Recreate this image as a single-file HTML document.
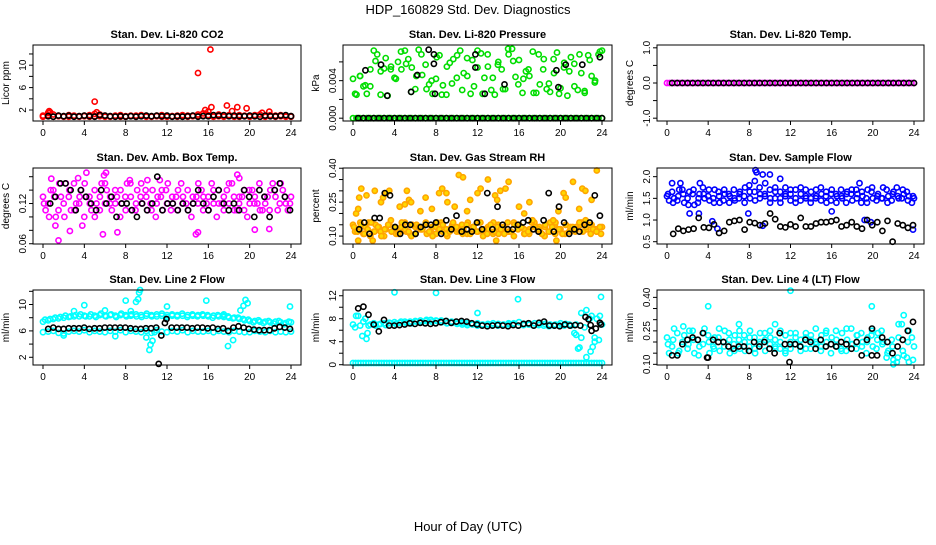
<!DOCTYPE html>
<html><head><meta charset="utf-8"><style>
html,body{margin:0;padding:0;background:#fff;}
svg text{font-family:"Liberation Sans",Arial,sans-serif;fill:#000;}
</style></head><body>
<svg id="chart" width="936" height="540" viewBox="0 0 936 540" xmlns="http://www.w3.org/2000/svg">
<text x="468" y="14" font-size="13" text-anchor="middle">HDP_160829  Std. Dev. Diagnostics</text>
<text x="468" y="531" font-size="13" text-anchor="middle">Hour of Day (UTC)</text>
</svg>
<script>
// ---- data ----
const xTicks = [0,4,8,12,16,20,24];
// Panel 1 CO2
const co2Red1 = [1.0,1.1,1.2,1.0,0.9,1.1,1.0,0.9,1.0,1.1,1.3,1.2,1.0,0.9,1.0,1.1,0.9,1.0,1.0,1.1,1.0,0.9,1.0,1.1,1.0,0.9,1.0,1.1,1.0,1.0,1.2,1.4,1.1,1.0,1.2,1.0,1.1,1.0,1.1,1.0,1.0,1.1,1.2,1.0,1.1,1.0,1.1,1.0,0.9];
const co2Red2 = [0.8,0.9,0.8,0.9,0.8,0.8,0.9,0.8,0.9,0.8,0.9,0.9,0.8,0.8,0.9,0.8,0.8,0.9,0.8,0.9,0.8,0.8,0.9,0.8,0.8,0.9,0.8,0.9,0.8,0.9,0.9,1.0,0.9,0.8,0.9,0.8,0.9,0.8,0.8,0.9,0.8,0.9,0.8,0.8,0.9,0.8,0.9,0.8,0.8];
const co2RedPts = [[5,3.5],[15,8.6],[16.2,12.8],[15.7,2],[16.3,2.5],[17.8,2.8],[18.8,2.5],[19.7,2.3],[18.3,1.8],[0.6,1.8],[0.5,1.5],[0.7,1.6],[5.2,1.6],[21.9,1.7],[21.2,1.5],[16,1.7]];
const co2Black = [0.9,0.8,1.0,0.9,1.0,0.8,0.9,1.0,0.9,0.8,1.1,1.0,0.9,0.8,0.9,0.8,0.9,0.8,0.9,1.0,0.9,1.0,0.9,1.0,0.8,0.9,0.8,0.9,1.0,0.8,0.9,0.9,1.1,1.0,1.1,0.9,1.0,0.9,0.9,1.0,0.9,0.8,1.0,0.9,0.9,1.0,1.1,0.9];
// Panel 2 pressure
const presGreenZero = new Array(73).fill(0);
const presGreen1 = [.0042,.0025,.0045,.0034,.0026,.0034,.0072,.0068,.0050,.0053,.0024,.0055,.0043,.0060,.0052,.0072,.0063,.0054,.0031,.0073,.0046,.0057,.0036,.0026,.0042,.0067,.0035,.0025,.0059,.0063,.0043,.0072,.0048,.0064,.0026,.0034,.0072,.0069,.0043,.0055,.0030,.0025,.0060,.0052,.0031,.0068,.0074,.0044,.0062,.0027,.0050,.0045,.0071,.0027,.0036,.0052,.0031,.0028,.0063,.0070,.0032,.0054,.0024,.0065,.0058,.0030,.0048,.0027,.0067,.0045,.0040,.0068,.0072];
const presGreen2 = [.0026,.0045,.0035,.0052,.0061,.0025,.0064,.0052,.0042,.0071,.0058,.0028,.0045,.0068,.0031,.0040,.0065,.0025,.0055,.0037,.0067,.0030,.0045,.0062,.0054,.0026,.0068,.0043,.0057,.0031,.0074,.0061,.0036,.0042,.0052,.0027,.0068,.0063,.0037,.0048,.0026,.0059,.0050,.0034,.0068,.0029,.0062,.0038,.0071];
const presBlackZero = new Array(48).fill(0);
const presBlackPts = [[1.2,.0051],[2.7,.0057],[3.3,.0024],[5.6,.0028],[6.2,.0046],[7.3,.0073],[7.8,.0058],[7.8,.0068],[7.9,.0026],[11.8,.0068],[11.8,.0054],[12.7,.0026],[14.6,.0036],[19.6,.0051],[19.8,.0033],[20.5,.0057],[22.1,.0057],[23.8,.0065]];
// Panel 3 temp
const tempMag = new Array(97).fill(0);
const tempBlack = new Array(48).fill(0);
// Panel 4 amb box temp
const ambMag1 = [.13,.12,.14,.11,.12,.13,.15,.12,.10,.13,.14,.11,.12,.13,.12,.14,.11,.13,.12,.15,.13,.11,.12,.14,.12,.13,.11,.12,.14,.13,.12,.11,.13,.14,.12,.13,.12,.11,.13,.14,.12,.13,.11,.12,.14,.13,.15,.12,.13];
const ambMag2 = [.11,.14,.10,.13,.15,.11,.12,.14,.13,.11,.12,.15,.14,.11,.13,.12,.15,.11,.14,.12,.11,.14,.13,.11,.15,.12,.14,.13,.11,.12,.15,.13,.11,.12,.14,.11,.15,.13,.12,.11,.14,.12,.15,.13,.11,.14,.12,.13,.12];
const ambMag3 = [.12,.10,.13,.15,.10,.14,.11,.13,.15,.12,.10,.13,.15,.12,.14,.10,.13,.15,.11,.13,.14,.12,.10,.13,.14,.11,.13,.15,.12,.10,.13,.14,.12,.15,.10,.12,.14,.15,.11,.13,.10,.14,.12,.11,.13,.15,.11,.14,.11];
const ambMagPts = [[1.5,.065],[1.2,.087],[2.6,.079],[3.8,.087],[4.2,.166],[5.8,.074],[5.9,.162],[6.1,.166],[7.2,.077],[10.1,.155],[14.8,.074],[15,.077],[18.8,.163],[19,.158],[20.5,.081],[21.9,.082],[3.4,.158],[8.4,.155],[11.3,.155],[0.8,.157]];
const ambBlack = [.12,.13,.15,.15,.14,.11,.14,.13,.12,.11,.14,.12,.13,.10,.12,.12,.11,.10,.12,.11,.12,.16,.11,.12,.12,.11,.12,.11,.12,.14,.12,.11,.13,.14,.12,.11,.12,.11,.14,.13,.10,.14,.13,.10,.14,.15,.13,.11];
// Panel 5 RH
const rhOr1 = [.15,.13,.11,.16,.12,.14,.10,.15,.13,.12,.16,.11,.14,.13,.15,.12,.11,.16,.13,.14,.12,.15,.11,.13,.16,.12,.14,.11,.15,.13,.12,.16,.14,.11,.13,.15,.12,.14,.16,.11,.13,.15,.12,.14,.16,.13,.15,.12,.14];
const rhOr2 = [.12,.16,.14,.10,.15,.12,.13,.17,.11,.14,.12,.10,.15,.13,.11,.14,.16,.12,.10,.15,.13,.11,.16,.14,.12,.10,.13,.16,.11,.14,.12,.10,.15,.13,.11,.16,.14,.10,.12,.15,.13,.11,.14,.12,.15,.17,.11,.13,.11];
const rhOr3 = [.14,.12,.15,.11,.13,.16,.12,.14,.10,.13,.15,.12,.14,.11,.16,.13,.12,.15,.11,.14,.13,.16,.12,.10,.14,.13,.15,.11,.12,.16,.14,.12,.13,.15,.11,.14,.12,.16,.13,.11,.15,.12,.14,.13,.11,.16,.12,.15,.13,.14,.11,.12,.16,.14,.13,.11,.15,.12,.14,.16,.13,.11,.15,.12,.14,.13,.16,.12,.14,.15,.13,.12,.14];
const rhOrPts = [[0.3,.20],[0.5,.22],[0.6,.27],[0.8,.31],[1.3,.28],[2.1,.30],[2.7,.25],[2.9,.27],[3.2,.29],[3.5,.30],[4.5,.23],[5.0,.24],[5.2,.30],[5.4,.26],[5.6,.25],[6.5,.21],[7.0,.27],[7.6,.22],[8.3,.29],[8.6,.31],[9.0,.29],[9.1,.25],[9.8,.23],[10.2,.37],[10.6,.36],[11.0,.21],[11.3,.26],[12.0,.29],[12.3,.31],[13.0,.35],[13.7,.28],[13.9,.26],[14.2,.30],[14.7,.31],[15.0,.34],[16.0,.23],[16.5,.20],[17.0,.25],[17.3,.17],[19.3,.17],[19.8,.21],[20.3,.29],[20.5,.27],[21.2,.34],[21.8,.22],[22.1,.31],[22.4,.30],[23.0,.26],[23.5,.39],[13.8,.08],[0.5,.08],[1.9,.08],[19.6,.08]];
const rhBlack = [.13,.16,.11,.18,.18,.29,.28,.14,.11,.15,.15,.11,.14,.15,.15,.16,.11,.17,.13,.19,.12,.13,.12,.16,.13,.29,.13,.23,.15,.13,.13,.15,.16,.17,.13,.12,.17,.29,.12,.23,.16,.11,.13,.12,.15,.16,.28,.19];
// Panel 6 sample flow
const sfBlue1 = [1.55,1.65,1.45,1.7,1.5,1.6,1.4,1.75,1.55,1.5,1.65,1.45,1.6,1.7,1.5,1.55,1.8,1.65,1.75,1.6,1.7,1.5,1.65,1.55,1.45,1.7,1.6,1.5,1.65,1.55,1.6,1.4,1.7,1.55,1.5,1.65,1.45,1.6,1.55,1.7,1.5,1.6,1.75,1.55,1.65,1.5,1.6,1.55,1.5];
const sfBlue2 = [1.45,1.5,1.7,1.4,1.65,1.35,1.6,1.5,1.45,1.7,1.4,1.6,1.55,1.45,1.65,1.75,1.5,1.45,1.6,1.85,1.5,1.65,1.4,1.75,1.6,1.5,1.45,1.7,1.4,1.5,1.75,1.55,1.45,1.6,1.7,1.4,1.6,1.7,1.4,1.5,1.65,1.45,1.5,1.7,1.45,1.75,1.5,1.65,1.4];
const sfBlue3 = [1.6,1.4,1.55,1.6,1.35,1.7,1.5,1.6,1.7,1.4,1.55,1.7,1.4,1.5,1.6,1.4,1.65,1.9,1.5,1.55,1.4,1.75,1.5,1.6,1.7,1.4,1.75,1.55,1.5,1.7,1.45,1.65,1.6,1.4,1.55,1.6,1.7,1.5,1.65,1.4,1.75,1.55,1.5,1.4,1.6,1.55,1.7,1.45,1.55];
const sfBluePts = [[8.6,2.15],[8.7,2.1],[9.3,2.05],[10.0,2.05],[11.0,1.95],[2.2,1.15],[3.1,1.15],[7.9,1.15],[4.4,0.97],[4.9,0.8],[9.3,0.87],[16.0,1.2],[19.2,1.0],[23.9,0.78],[19.8,0.95],[0.5,1.85],[1.3,1.85],[3.2,1.85],[18.7,1.85]];
const sfBlack = [.68,.80,.75,.78,.80,1.05,.83,.82,.90,.70,.75,.95,.98,1.0,.78,.95,.93,.88,.92,1.15,1.02,.85,.83,.90,.85,1.05,.85,.85,.92,.95,.95,.97,1.0,.85,.88,.95,.85,.80,1.0,.88,.95,.75,.98,.50,.92,.88,.82,.88];
// Panel 7 line 2 flow
const l2Up1 = [7.4,7.6,7.8,7.9,8.0,8.1,8.2,8.2,8.3,8.2,8.3,8.4,8.3,8.4,8.3,8.4,8.4,8.3,8.5,8.4,8.3,8.4,8.5,8.3,8.4,8.3,8.4,8.3,8.4,8.3,8.4,8.3,8.2,8.3,8.2,8.1,8.0,8.0,7.8,7.6,7.5,7.5,7.4,7.4,7.3,7.4,7.3,7.2,7.3];
const l2Up2 = [7.7,7.8,8.0,8.1,8.3,8.2,8.4,8.5,8.2,8.5,8.1,8.6,8.2,8.5,8.1,8.6,8.2,8.5,8.2,8.1,8.6,8.2,8.2,8.6,8.1,8.5,8.2,8.6,8.1,8.5,8.2,8.5,8.4,8.0,8.4,8.3,8.2,7.9,8.0,7.8,7.7,7.3,7.6,7.2,7.5,7.1,7.5,7.0,7.4];
const l2Low = [5.8,5.9,6.0,5.7,5.6,5.9,6.0,5.9,6.1,5.8,6.0,5.9,5.8,6.0,5.9,6.1,5.8,6.0,5.9,5.8,6.0,5.7,6.1,5.9,5.8,6.0,5.9,6.1,5.8,6.0,5.9,5.9,6.0,5.8,6.0,5.9,5.8,6.0,5.9,5.8,5.8,6.0,5.9,5.8,6.0,5.8,5.9,5.8,5.9];
const l2Pts = [[3,9],[4,9.9],[6,9.1],[8,10.6],[8.5,9],[9,10.4],[9.2,10.8],[9.3,11.8],[9.4,12.2],[10.3,3.1],[10.4,3.9],[10.6,4.5],[10.8,5.8],[12,9.7],[15.8,10.6],[17.9,3.7],[18.4,4.6],[19.1,9.1],[19.4,9.8],[19.6,10.7],[19.8,10.2],[23.9,9.7],[7,5.2],[2,5.3],[10,5],[17.5,8.5]];
const l2Black = [6.3,6.5,6.3,6.3,6.4,6.4,6.4,6.5,6.3,6.4,6.4,6.5,6.5,6.5,6.5,6.5,6.4,6.3,6.3,6.4,6.4,6.5,5.3,7.8,6.5,6.5,6.5,6.5,6.4,6.5,6.5,6.4,6.5,6.3,6.4,6.0,6.5,6.7,6.5,6.3,6.2,6.1,6.1,6.1,6.4,6.6,6.5,6.3];
const l2BlackPts = [[11.2,1.0],[11.8,7.2]];
// Panel 8 line 3 flow
const l3Zero = new Array(97).fill(0.3);
const l3Cy1 = [7.0,8.5,7.5,6.8,7.2,7.0,7.2,7.3,7.4,7.3,7.5,7.5,7.6,7.7,7.6,7.8,7.7,7.7,7.6,7.5,7.4,7.3,7.2,7.1,7.2,7.0,7.1,7.2,7.1,7.0,7.2,7.2,7.4,7.1,7.0,7.2,7.0,7.1,7.0,7.0,7.2,7.1,6.8,7.0,9.0,9.5,8.5,8.0,7.0];
const l3Cy2 = [6.5,6.8,8.0,7.0,6.8,7.1,6.9,7.2,7.1,7.5,7.3,7.2,7.5,7.4,7.8,7.5,7.6,7.4,7.2,7.3,7.1,7.0,6.9,7.0,6.8,6.9,7.0,6.9,6.8,6.9,7.0,7.1,6.8,6.9,7.0,6.8,6.9,6.8,6.7,6.8,6.9,6.8,7.0,5.5,3.0,6.5,8.0,4.0,8.5];
const l3Pts = [[0.3,8.5],[0.9,5],[1.3,4.5],[1.4,5.5],[4,12.6],[8,12.5],[12,9],[15.9,11.4],[19.9,11.8],[23.9,11.8],[21.7,2.8],[22,4.7],[22.9,2.3],[23.1,3.1],[22.5,1.3],[23.3,4.7],[23.7,4.3],[21.5,5.2]];
const l3Black = [9.8,10.1,8.7,7.0,5.8,7.8,6.8,6.8,6.9,7.0,7.2,7.1,7.3,7.2,7.1,7.2,7.4,7.6,7.3,7.5,7.6,7.5,7.2,7.0,6.8,6.7,6.8,6.9,6.8,6.7,6.9,6.8,7.1,7.2,6.8,7.3,7.5,6.8,6.8,6.7,7.0,6.8,6.9,6.8,8.3,6.9,6.3,7.0];
const l3BlackPts = [[22.7,7.9],[23,5.9],[23.8,7.3]];
// Panel 9 line 4 flow
const l4Cy1 = [.22,.18,.24,.20,.17,.25,.21,.19,.23,.18,.22,.20,.24,.19,.21,.23,.18,.22,.20,.24,.19,.21,.17,.23,.20,.22,.18,.24,.21,.19,.23,.20,.22,.18,.24,.21,.19,.23,.20,.22,.18,.24,.20,.16,.12,.22,.14,.25,.18];
const l4Cy2 = [.15,.26,.16,.23,.25,.15,.18,.26,.15,.22,.16,.25,.15,.23,.17,.16,.25,.15,.24,.16,.22,.17,.25,.15,.17,.24,.16,.22,.17,.26,.16,.24,.15,.25,.17,.16,.26,.17,.24,.15,.23,.17,.25,.13,.21,.11,.28,.13,.22];
const l4Cy3 = [.19,.21,.15,.27,.19,.21,.14,.24,.20,.17,.26,.18,.21,.16,.25,.20,.22,.17,.19,.21,.25,.18,.20,.16,.24,.19,.21,.17,.23,.20,.18,.25,.19,.21,.16,.26,.19,.23,.18,.20,.25,.21,.19,.15,.18,.13,.16,.20,.12];
const l4Pts = [[4,.36],[12,.43],[19.9,.36],[23,.32],[22.5,.28],[22,.10],[23.5,.11],[10.5,.28],[7,.28]];
const l4Black = [.14,.14,.19,.21,.22,.21,.24,.13,.21,.20,.20,.18,.17,.18,.18,.16,.20,.18,.20,.17,.15,.24,.19,.19,.19,.18,.21,.20,.17,.21,.18,.19,.18,.20,.19,.17,.20,.14,.21,.26,.14,.22,.20,.15,.18,.21,.25,.29];
const l4BlackPts = [[11.9,.11],[3.9,.13],[19.9,.14]];

// ---- layout ----
const cols = [{l:33,r:301,x0:43,x24:291},{l:343,r:612,x0:353,x24:602},{l:657,r:924,x0:667,x24:914}];
const rows = [{t:45,b:121},{t:168,b:244},{t:290,b:365}];
const RED='#ff0000',GRN='#00dd00',MAG='#ff00ff',ORG='#ffa500',BLU='#0000ff',CYN='#00ffff',BLK='#000000';
const panels = [
 {name:'co2',title:'Stan. Dev. Li-820 CO2',yl:'Licor ppm',c:0,r:0,lo:0.04,hi:13.6,ticks:[2,4,6,8,10,12],labels:[2,6,10],fmt:v=>String(v),
  series:[[RED,co2Red1,0,24],[RED,co2Red2,0,24],[RED,co2RedPts],[BLK,co2Black,0.5,24]]},
 {name:'pressure',title:'Stan. Dev. Li-820 Pressure',yl:'kPa',c:1,r:0,lo:-0.0003,hi:0.0078,ticks:[0,.002,.004,.006],labels:[0,.004],fmt:v=>v.toFixed(3),
  series:[[GRN,presGreenZero,0,24],[GRN,presGreen1,0,24],[GRN,presGreen2,0.2,23.8],[BLK,presBlackZero,0.5,24],[BLK,presBlackPts]]},
 {name:'li820-temp',title:'Stan. Dev. Li-820 Temp.',yl:'degrees C',c:2,r:0,lo:-1.08,hi:1.08,ticks:[-1,-.5,0,.5,1],labels:[-1,0,1],fmt:v=>v.toFixed(1),
  series:[[MAG,tempMag,0,24],[BLK,tempBlack,0.5,24]]},
 {name:'amb-box-temp',title:'Stan. Dev. Amb. Box Temp.',yl:'degrees C',c:0,r:1,lo:0.0596,hi:0.173,ticks:[.06,.08,.10,.12,.14,.16],labels:[.06,.12],fmt:v=>v.toFixed(2),
  series:[[MAG,ambMag1,0,24],[MAG,ambMag2,0.25,23.9],[MAG,ambMag3,0.1,23.7],[MAG,ambMagPts],[BLK,ambBlack,0.7,23.9]]},
 {name:'gas-rh',title:'Stan. Dev. Gas Stream RH',yl:'percent',c:1,r:1,lo:0.065,hi:0.401,ticks:[.10,.15,.20,.25,.30,.35,.40],labels:[.10,.25,.40],fmt:v=>v.toFixed(2),
  series:[[ORG,rhOr1,0,24],[ORG,rhOr2,0.2,23.9],[ORG,rhOr3,0.1,23.8],[ORG,rhOrPts],[BLK,rhBlack,0.6,23.8]]},
 {name:'sample-flow',title:'Stan. Dev. Sample Flow',yl:'ml/min',c:2,r:1,lo:0.447,hi:2.2,ticks:[.5,1,1.5,2],labels:[.5,1,1.5,2],fmt:v=>v.toFixed(1),
  series:[[BLU,sfBlue1,0,24],[BLU,sfBlue2,0.2,23.8],[BLU,sfBlue3,0.1,23.9],[BLU,sfBluePts],[BLK,sfBlack,0.6,23.9]]},
 {name:'line2-flow',title:'Stan. Dev. Line 2 Flow',yl:'ml/min',c:0,r:2,lo:0.83,hi:12.2,ticks:[2,4,6,8,10,12],labels:[2,6,10],fmt:v=>String(v),
  series:[[CYN,l2Up1,0,24],[CYN,l2Up2,0.2,23.8],[CYN,l2Low,0,24],[CYN,l2Pts],[BLK,l2Black,0.5,23.9],[BLK,l2BlackPts]]},
 {name:'line3-flow',title:'Stan. Dev. Line 3 Flow',yl:'ml/min',c:1,r:2,lo:-0.05,hi:13,ticks:[0,2,4,6,8,10,12],labels:[0,4,8,12],fmt:v=>String(v),
  series:[[CYN,l3Zero,0,24],[CYN,l3Cy1,0,24],[CYN,l3Cy2,0.2,23.8],[CYN,l3Pts],[BLK,l3Black,0.5,23.9],[BLK,l3BlackPts]]},
 {name:'line4-flow',title:'Stan. Dev. Line 4 (LT) Flow',yl:'ml/min',c:2,r:2,lo:0.097,hi:0.433,ticks:[.10,.15,.20,.25,.30,.35,.40],labels:[.10,.25,.40],fmt:v=>v.toFixed(2),
  series:[[CYN,l4Cy1,0,24],[CYN,l4Cy2,0.2,23.8],[CYN,l4Cy3,0.1,23.9],[CYN,l4Pts],[BLK,l4Black,0.5,23.9],[BLK,l4BlackPts]]}
];
const NS='http://www.w3.org/2000/svg';
const svg=document.getElementById('chart');
function mk(tag,attrs,parent){const e=document.createElementNS(NS,tag);for(const k in attrs)e.setAttribute(k,attrs[k]);(parent||svg).appendChild(e);return e;}
panels.forEach(p=>{
  const C=cols[p.c],R=rows[p.r];
  const xs=h=>C.x0+(C.x24-C.x0)*h/24;
  const ys=v=>R.b-(v-p.lo)/(p.hi-p.lo)*(R.b-R.t);
  const g=mk('g',{});
  
  
  const t=mk('text',{x:(C.l+C.r)/2,y:R.t-7,'font-size':11,'font-weight':'bold','text-anchor':'middle'},g);
  t.textContent=p.title;
  
  
  const yl=mk('text',{x:0,y:0,'font-size':10,'text-anchor':'middle',transform:`translate(${C.l-24},${(R.t+R.b)/2}) rotate(-90)`},g);
  yl.textContent=p.yl;
  
  
  // points
  const pg=mk('g',{fill:'none','stroke-width':1.6},g);
  
  
  p.series.forEach(s=>{
    const col=s[0],vals=s[1];
    const pts=[];
    if(s.length===2){vals.forEach(q=>pts.push([q[0],q[1]]));}
    else{const a=s[2],b=s[3],n=vals.length;vals.forEach((v,i)=>pts.push([a+(b-a)*i/(n-1),v]));}
    pts.forEach(q=>{
      const c=mk('circle',{cx:xs(q[0]).toFixed(1),cy:ys(q[1]).toFixed(1),r:2.6,stroke:col,fill:col===ORG?'#ffd800':'none'},pg);
      
      
    });
  });
  // box
  const box=mk('rect',{x:C.l,y:R.t,width:C.r-C.l,height:R.b-R.t,fill:'none',stroke:'#000','stroke-width':1},g);
  
  
  // x ticks
  xTicks.forEach(h=>{
    const x=xs(h);
    mk('line',{x1:x,x2:x,y1:R.b,y2:R.b+4,stroke:'#000'},g);
    const tl=mk('text',{x:x,y:R.b+15,'font-size':10,'text-anchor':'middle'},g);
    tl.textContent=h;
    
    
  });
  p.ticks.forEach(v=>{const y=ys(v);mk('line',{x1:C.l-4,x2:C.l,y1:y,y2:y,stroke:'#000'},g);});
  p.labels.forEach(v=>{
    const y=ys(v);
    const tl=mk('text',{x:0,y:0,'font-size':10,'text-anchor':'middle',transform:`translate(${C.l-7},${y}) rotate(-90)`},g);
    tl.textContent=p.fmt(v);
    
    
  });
});
</script>
</body></html>
